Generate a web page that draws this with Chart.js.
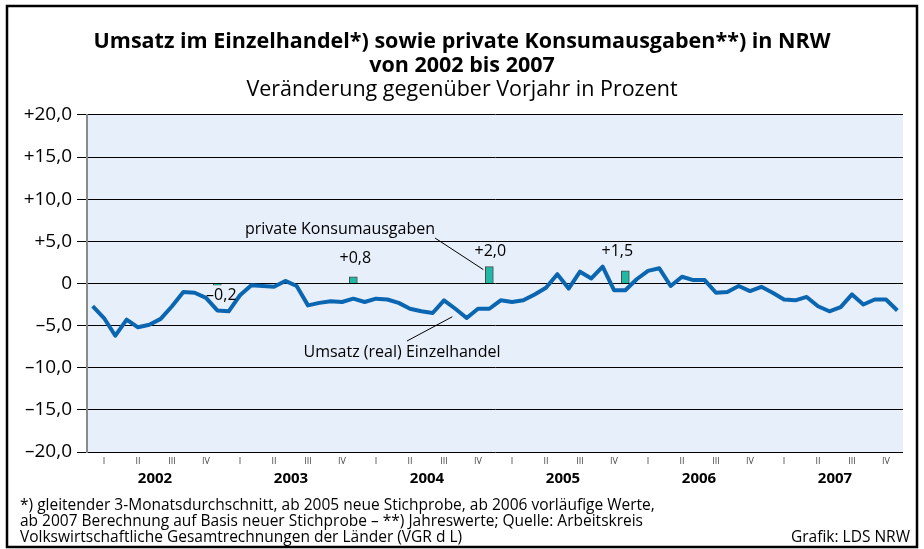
<!DOCTYPE html>
<html lang="de">
<head>
<meta charset="utf-8">
<title>Umsatz im Einzelhandel sowie private Konsumausgaben in NRW</title>
<script src="https://cdn.jsdelivr.net/npm/chart.js@4.4.1/dist/chart.umd.min.js"></script>
<style>
  html, body { margin: 0; padding: 0; background: #fff; }
  #wrap { width: 924px; height: 549px; }
</style>
</head>
<body>
<div id="wrap"><canvas id="umsatzChart" width="924" height="549"></canvas></div>
<script>
// data
const years = ['2002', '2003', '2004', '2005', '2006', '2007'];
const quarters = ['I', 'II', 'III', 'IV'];

// Umsatz (real) Einzelhandel, monthly, change vs. previous year in %
const umsatzReal = [
  -2.7, -4.1, -6.2, -4.3, -5.2, -4.9, -4.2, -2.7, -1.0, -1.1, -1.7, -3.2,
  -3.3, -1.4, -0.2, -0.3, -0.4,  0.3, -0.3, -2.6, -2.3, -2.1, -2.2, -1.8,
  -2.2, -1.8, -1.9, -2.3, -3.0, -3.3, -3.5, -2.0, -3.0, -4.1, -3.0, -3.0,
  -2.0, -2.2, -2.0, -1.3, -0.5,  1.1, -0.6,  1.4,  0.6,  2.0, -0.8, -0.8,
   0.5,  1.5,  1.8, -0.3,  0.8,  0.4,  0.4, -1.1, -1.0, -0.3, -0.9, -0.4,
  -1.1, -1.9, -2.0, -1.6, -2.7, -3.3, -2.8, -1.3, -2.5, -1.9, -1.9, -3.2
];

// private Konsumausgaben, annual values
const konsumYears = ['2002', '2003', '2004', '2005'];
const konsumValues = [-0.2, 0.8, 2.0, 1.5];

const yTicks = [20, 15, 10, 5, 0, -5, -10, -15, -20];

const footnotes = [
  '*) gleitender 3-Monatsdurchschnitt, ab 2005 neue Stichprobe, ab 2006 vorläufige Werte,',
  'ab 2007 Berechnung auf Basis neuer Stichprobe – **) Jahreswerte; Quelle: Arbeitskreis',
  'Volkswirtschaftliche Gesamtrechnungen der Länder (VGR d L)'
];
const credit = 'Grafik: LDS NRW';

const monthLabels = [];
years.forEach(y => {
  for (let m = 1; m <= 12; m++) monthLabels.push(y + '-' + String(m).padStart(2, '0'));
});

const konsumBars = monthLabels.map(() => null);
konsumYears.forEach((y, i) => {
  konsumBars[monthLabels.indexOf(y + '-12')] = konsumValues[i];
});

function fmt(v) {
  if (v === 0) return '0';
  const s = Math.abs(v).toFixed(1).replace('.', ',');
  return (v > 0 ? '+' : '\u2013') + s;
}

const FONT = '"Open Sans", "Noto Sans", sans-serif';

// light blue plot background
const plotBackground = {
  id: 'plotBackground',
  beforeDraw(chart) {
    const { ctx, chartArea: a } = chart;
    ctx.save();
    ctx.fillStyle = '#e7effa';
    ctx.fillRect(a.left, a.top, a.right - a.left, a.bottom - a.top);
    ctx.restore();
  }
};

// value labels, series names and leader lines
const labelShift = [[4, 17], [2, -14], [1, -11], [-8, -15]];
const annotations = {
  id: 'annotations',
  afterDatasetsDraw(chart) {
    const { ctx, scales: { x, y } } = chart;
    ctx.save();
    ctx.fillStyle = '#000';
    ctx.strokeStyle = '#000';
    ctx.lineWidth = 1;
    ctx.font = '16px ' + FONT;
    ctx.textAlign = 'center';
    ctx.textBaseline = 'alphabetic';

    konsumYears.forEach((yr, i) => {
      const idx = monthLabels.indexOf(yr + '-12');
      const px = x.getPixelForValue(idx);
      const v = konsumValues[i];
      const top = Math.min(y.getPixelForValue(v), y.getPixelForValue(0));
      const [dx, dy] = labelShift[i];
      ctx.fillText(fmt(v), px + dx, top + dy);
    });

    // private Konsumausgaben
    const i04 = monthLabels.indexOf('2004-12');
    const bx = x.getPixelForValue(i04);
    const by = y.getPixelForValue(konsumValues[2]);
    ctx.fillText('private Konsumausgaben', 340, 234);
    ctx.beginPath();
    ctx.moveTo(435, 238);
    ctx.lineTo(bx - 6, by + 3);
    ctx.stroke();

    // Umsatz (real) Einzelhandel
    const i32 = monthLabels.indexOf('2004-09');
    const lx = x.getPixelForValue(i32);
    const ly = y.getPixelForValue(umsatzReal[i32]);
    ctx.fillText('Umsatz (real) Einzelhandel', 402, 357);
    ctx.beginPath();
    ctx.moveTo(407, 341);
    ctx.lineTo(lx - 3, ly + 8);
    ctx.stroke();
    ctx.restore();
  }
};

// footnotes and outer frame
const frame = {
  id: 'frame',
  afterDraw(chart) {
    const { ctx } = chart;
    ctx.save();
    ctx.fillStyle = '#000';
    ctx.font = '15.5px ' + FONT;
    ctx.textAlign = 'left';
    footnotes.forEach((t, i) => ctx.fillText(t, 20, 510 + i * 16));
    ctx.textAlign = 'right';
    ctx.fillText(credit, 910, 542);
    ctx.strokeStyle = '#000';
    ctx.lineWidth = 2.5;
    ctx.strokeRect(7, 6, 910, 541);
    ctx.restore();
  }
};

new Chart(document.getElementById('umsatzChart'), {
  data: {
    labels: monthLabels,
    datasets: [
      {
        type: 'line',
        label: 'Umsatz (real) Einzelhandel',
        data: umsatzReal,
        borderColor: '#0b66b2',
        borderWidth: 4,
        pointRadius: 0,
        tension: 0,
        borderJoinStyle: 'round'
      },
      {
        type: 'bar',
        label: 'private Konsumausgaben',
        data: konsumBars,
        backgroundColor: '#22b8a6',
        borderColor: '#4a4a4a',
        borderWidth: 1,
        barThickness: 8
      }
    ]
  },
  options: {
    responsive: false,
    animation: false,
    layout: { padding: { left: 21, right: 21, top: 0, bottom: 61 } },
    plugins: {
      legend: { display: false },
      tooltip: { enabled: false },
      title: {
        display: true,
        text: ['Umsatz im Einzelhandel*) sowie private Konsumausgaben**) in NRW', 'von 2002 bis 2007'],
        color: '#000',
        font: { family: FONT, size: 21.5, weight: 'bold', lineHeight: 1.1 },
        padding: { top: 30, bottom: 0 }
      },
      subtitle: {
        display: true,
        text: 'Veränderung gegenüber Vorjahr in Prozent',
        color: '#000',
        font: { family: FONT, size: 21.5, lineHeight: 1.1 },
        padding: { top: 1, bottom: 13 }
      }
    },
    scales: {
      x: {
        type: 'category',
        offset: true,
        grid: { display: false, drawTicks: false },
        border: { display: false },
        afterFit: s => { s.height = 15; },
        ticks: {
          autoSkip: false,
          maxRotation: 0,
          padding: 4,
          color: '#444',
          font: { family: FONT, size: 9 },
          callback: (v, i) => (i % 3 === 1 ? quarters[Math.floor(i / 3) % 4] : '')
        }
      },
      xYear: {
        type: 'linear',
        position: 'bottom',
        min: 0,
        max: monthLabels.length,
        grid: { display: false, drawTicks: false },
        border: { display: false },
        afterFit: s => { s.height = 21; },
        afterBuildTicks: s => { s.ticks = years.map((yr, i) => ({ value: 6 + 12 * i })); },
        ticks: {
          padding: 3,
          color: '#000',
          font: { family: FONT, size: 15, weight: 'bold' },
          callback: v => years[Math.round((v - 6) / 12)]
        }
      },
      y: {
        min: -20,
        max: 20,
        afterFit: s => { s.width = 66; },
        afterBuildTicks: s => { s.ticks = yTicks.map(v => ({ value: v })); },
        grid: { color: '#000', lineWidth: 1, tickLength: 10 },
        border: { color: '#8a8a8a', width: 2 },
        ticks: {
          padding: 5,
          color: '#000',
          font: { family: FONT, size: 19 },
          callback: v => fmt(v)
        }
      }
    }
  },
  plugins: [plotBackground, annotations, frame]
});
</script>
</body>
</html>
